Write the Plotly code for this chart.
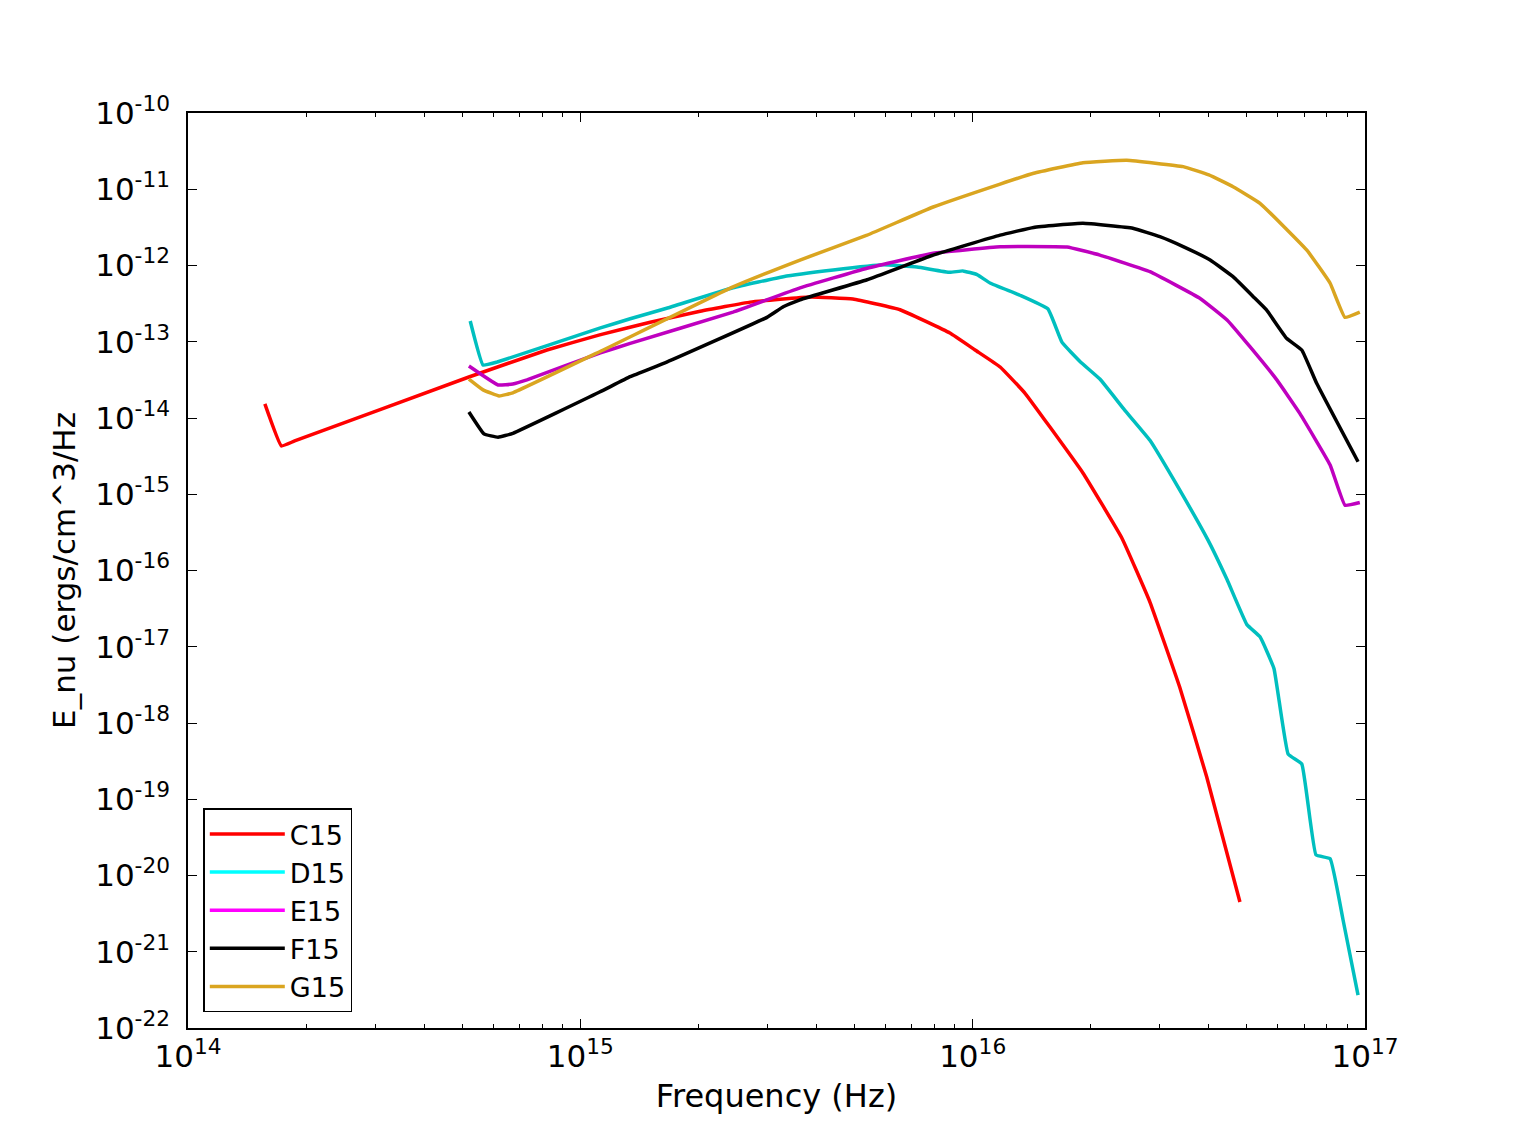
import plotly.graph_objects as go

# ---- data ----
c15_freq = [1.57e14, 1.73e14, 1.87e14, 5.2e14, 8.22e14, 1.12e15, 1.507e15, 2.02e15, 2.71e15, 3.85e15,
            4.95e15, 6.53e15, 8.75e15, 1.014e16, 1.175e16, 1.36e16, 1.574e16, 1.91e16, 2.40e16, 2.83e16,
            3.37e16, 3.95e16, 4.80e16]
c15_val = [1.53e-14, 4.3e-15, 5.0e-15, 3.45e-14, 7.8e-14, 1.23e-13, 1.80e-13, 2.51e-13, 3.31e-13, 3.86e-13,
           3.63e-13, 2.63e-13, 1.30e-13, 7.8e-14, 4.67e-14, 2.11e-14, 7.6e-15, 1.9e-15, 2.67e-16, 3.86e-17,
           2.96e-18, 1.96e-19, 4.5e-21]

d15_freq = [5.24e14, 5.65e14, 6.14e14, 1.12e15, 1.34e15, 1.66e15, 2.45e15, 3.29e15, 4.41e15, 5.90e15,
            7.21e15, 8.75e15, 9.44e15, 1.026e16, 1.107e16, 1.32e16, 1.556e16, 1.69e16, 1.88e16, 2.11e16,
            2.44e16, 2.83e16, 3.37e16, 3.98e16, 4.45e16, 5.0e16, 5.4e16, 5.86e16, 6.37e16, 6.9e16,
            7.5e16, 8.15e16, 8.79e16, 9.6e16]
d15_val = [1.87e-13, 4.95e-14, 5.42e-14, 1.51e-13, 2.0e-13, 2.75e-13, 5.1e-13, 7.13e-13, 8.7e-13, 1.02e-12,
           9.55e-13, 8.13e-13, 8.5e-13, 7.6e-13, 5.9e-13, 4.07e-13, 2.69e-13, 9.8e-14, 5.47e-14, 3.24e-14,
           1.27e-14, 5.1e-15, 1.14e-15, 2.5e-16, 7.6e-17, 1.95e-17, 1.35e-17, 5.2e-18, 3.9e-19, 2.9e-19,
           1.86e-20, 1.66e-20, 2.63e-21, 2.7e-22]

e15_freq = [5.2e14, 6.17e14, 6.73e14, 7.31e14, 1.12e15, 1.34e15, 2.45e15, 3.63e15, 5.38e15, 7.93e15,
            1.175e16, 1.38e16, 1.74e16, 2.11e16, 2.83e16, 3.8e16, 4.45e16, 5.09e16, 5.96e16, 6.82e16,
            8.15e16, 8.89e16, 9.7e16]
e15_val = [4.8e-14, 2.71e-14, 2.79e-14, 3.16e-14, 7.1e-14, 9.5e-14, 2.45e-13, 5.1e-13, 9.2e-13, 1.45e-12,
           1.76e-12, 1.78e-12, 1.75e-12, 1.37e-12, 8.3e-13, 3.7e-13, 1.93e-13, 8.6e-14, 3.16e-14, 1.15e-14,
           2.42e-15, 7.2e-16, 7.8e-16]

f15_freq = [5.2e14, 5.68e14, 6.17e14, 6.73e14, 1.12e15, 1.34e15, 1.66e15, 2.99e15, 3.29e15, 3.63e15,
            5.38e15, 7.93e15, 1.175e16, 1.43e16, 1.91e16, 2.56e16, 3.0e16, 3.44e16, 4.03e16, 4.61e16,
            5.19e16, 5.61e16, 6.31e16, 6.9e16, 7.53e16, 9.6e16]
f15_val = [1.2e-14, 6.2e-15, 5.6e-15, 6.3e-15, 2.19e-14, 3.48e-14, 5.4e-14, 2.09e-13, 2.88e-13, 3.55e-13,
           6.5e-13, 1.37e-12, 2.5e-12, 3.16e-12, 3.57e-12, 3.08e-12, 2.39e-12, 1.77e-12, 1.18e-12, 7.13e-13,
           3.9e-13, 2.61e-13, 1.11e-13, 7.8e-14, 2.85e-14, 2.67e-15]

g15_freq = [5.2e14, 5.65e14, 6.21e14, 6.73e14, 1.12e15, 2.45e15, 3.63e15, 5.38e15, 7.93e15, 1.175e16,
            1.43e16, 1.91e16, 2.47e16, 3.44e16, 4.0e16, 4.61e16, 5.4e16, 7.1e16, 8.15e16, 8.89e16, 9.7e16]
g15_val = [3.24e-14, 2.34e-14, 1.95e-14, 2.14e-14, 7.4e-14, 5.25e-13, 1.18e-12, 2.5e-12, 5.85e-12, 1.17e-11,
           1.62e-11, 2.23e-11, 2.4e-11, 1.98e-11, 1.54e-11, 1.08e-11, 6.55e-12, 1.6e-12, 5.85e-13, 2.09e-13,
           2.45e-13]

series_names = ["C15", "D15", "E15", "F15", "G15"]
line_colors = ["#FF0000", "#00BFBF", "#BF00BF", "#000000", "#DAA520"]
legend_colors = ["#FF0000", "#00FFFF", "#FF00FF", "#000000", "#DAA520"]

x_tick_vals = [1e14, 1e15, 1e16, 1e17]
x_tick_text = ["10<sup>14</sup>", "10<sup>15</sup>", "10<sup>16</sup>", "10<sup>17</sup>"]
y_exponents = [-22, -21, -20, -19, -18, -17, -16, -15, -14, -13, -12, -11, -10]
y_tick_vals = [10.0 ** e for e in y_exponents]
y_tick_text = ["10<sup>%d</sup>" % e for e in y_exponents]
x_minor_vals = [m * 10.0 ** d for d in (14, 15, 16) for m in range(2, 10)]

freqs = [c15_freq, d15_freq, e15_freq, f15_freq, g15_freq]
vals = [c15_val, d15_val, e15_val, f15_val, g15_val]

fig = go.Figure()
for name, fx, fy, col in zip(series_names, freqs, vals, line_colors):
    fig.add_trace(go.Scatter(x=fx, y=fy, mode="lines", name=name, showlegend=False,
                             line=dict(color=col, width=3.5, shape="spline", smoothing=0.3)))
for name, col in zip(series_names, legend_colors):
    fig.add_trace(go.Scatter(x=[None], y=[None], mode="lines", name=name, showlegend=True,
                             line=dict(color=col, width=3.5)))

font_family = "DejaVu Sans"
fig.update_layout(
    width=1517, height=1144,
    margin=dict(l=188, r=152, t=113, b=116),
    paper_bgcolor="white", plot_bgcolor="white",
    font=dict(family=font_family, color="black", size=27),
    showlegend=True,
    legend=dict(x=0.013, y=0.017, xanchor="left", yanchor="bottom",
                bgcolor="white", bordercolor="black", borderwidth=1.5,
                font=dict(size=27, family=font_family), tracegroupgap=0,
                itemwidth=75),
)
fig.update_xaxes(
    type="log", range=[14, 17], showgrid=False, zeroline=False,
    showline=True, linecolor="black", linewidth=1.5, mirror="ticks",
    ticks="inside", ticklen=9, tickwidth=1.2, tickcolor="black",
    tickmode="array", tickvals=x_tick_vals, ticktext=x_tick_text,
    tickfont=dict(size=31, family=font_family),
    minor=dict(tickmode="array", tickvals=x_minor_vals, ticks="inside", ticklen=4,
               tickwidth=1.2, tickcolor="black"),
    title=dict(text="Frequency (Hz)", font=dict(size=32, family=font_family), standoff=12),
)
fig.update_yaxes(
    type="log", range=[-22, -10], showgrid=False, zeroline=False,
    showline=True, linecolor="black", linewidth=1.5, mirror="ticks",
    ticks="inside", ticklen=9, tickwidth=1.2, tickcolor="black",
    tickmode="array", tickvals=y_tick_vals, ticktext=y_tick_text,
    tickfont=dict(size=31, family=font_family), ticklabelstandoff=10,
    title=dict(text="E_nu (ergs/cm^3/Hz", font=dict(size=31, family=font_family), standoff=10),
)

fig.write_html("out.html")
